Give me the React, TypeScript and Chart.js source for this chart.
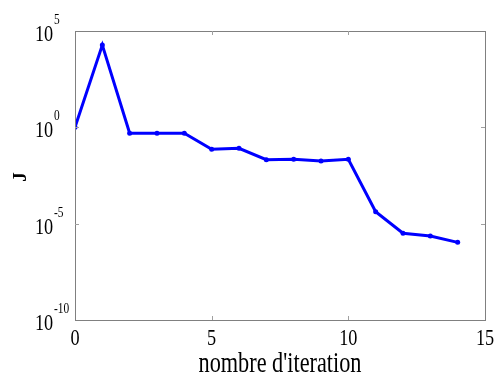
import React, { useEffect, useRef } from "react";
import { Chart, registerables } from "chart.js";

Chart.register(...registerables);

const iterations = [0, 1, 2, 3, 4, 5, 6, 7, 8, 9, 10, 11, 12, 13, 14];
const jValues = [1, 1.86e4, 0.5, 0.5, 0.5, 0.072, 0.081, 0.021, 0.022, 0.018, 0.022, 4.2e-5, 3.2e-6, 2.3e-6, 1.07e-6];
const xTicks = [0, 5, 10, 15];
const yExponents = [5, 0, -5, -10];
const xTitle = "nombre d'iteration";
const yTitle = "J";

const SERIF = "'Liberation Serif', 'Times New Roman', serif";

const framePlugin = {
  id: "framePlugin",
  afterDraw(chart: any) {
    const { ctx, chartArea } = chart;
    const xs = chart.scales.x;
    const ys = chart.scales.y;
    const { left, right, top, bottom } = chartArea;
    ctx.save();
    // frame
    ctx.strokeStyle = "#808080";
    ctx.lineWidth = 1;
    ctx.strokeRect(Math.round(left) + 0.5, Math.round(top) + 0.5, Math.round(right - left), Math.round(bottom - top));
    // ticks
    ctx.strokeStyle = "#a0a0a0";
    ctx.beginPath();
    const tl = 4;
    xTicks.forEach((v) => {
      const x = Math.round(xs.getPixelForValue(v)) + 0.5;
      if (v === xTicks[0] || v === xTicks[xTicks.length - 1]) return;
      ctx.moveTo(x, bottom);
      ctx.lineTo(x, bottom - tl);
      ctx.moveTo(x, top);
      ctx.lineTo(x, top + tl);
    });
    yExponents.forEach((e) => {
      if (e === yExponents[0] || e === yExponents[yExponents.length - 1]) return;
      const y = Math.round(ys.getPixelForValue(Math.pow(10, e))) + 0.5;
      ctx.moveTo(left, y);
      ctx.lineTo(left + tl, y);
      ctx.moveTo(right, y);
      ctx.lineTo(right - tl, y);
    });
    ctx.stroke();

    ctx.fillStyle = "#000";
    const squeeze = 0.76;
    // y tick labels
    yExponents.forEach((e) => {
      const y = ys.getPixelForValue(Math.pow(10, e));
      ctx.save();
      ctx.translate(35, y + 10);
      ctx.scale(squeeze, 1);
      ctx.font = `24px ${SERIF}`;
      ctx.textAlign = "left";
      ctx.textBaseline = "alphabetic";
      ctx.fillText("10", 0, 0);
      const w = ctx.measureText("10").width;
      ctx.font = `15px ${SERIF}`;
      ctx.fillText(String(e), w + 1, -17);
      ctx.restore();
    });
    // x tick labels
    xTicks.forEach((v) => {
      const x = xs.getPixelForValue(v);
      ctx.save();
      ctx.translate(x, 345);
      ctx.scale(squeeze, 1);
      ctx.font = `24px ${SERIF}`;
      ctx.textAlign = "center";
      ctx.textBaseline = "alphabetic";
      ctx.fillText(String(v), 0, 0);
      ctx.restore();
    });
    // x title
    ctx.save();
    ctx.font = `29px ${SERIF}`;
    const tw = ctx.measureText(xTitle).width;
    const cx = (left + right) / 2 - 0;
    ctx.translate(280, 372);
    ctx.scale(163 / tw, 1);
    ctx.textAlign = "center";
    ctx.textBaseline = "alphabetic";
    ctx.fillText(xTitle, 0, 0);
    ctx.restore();
    // y title
    ctx.save();
    ctx.translate(26, 177);
    ctx.rotate(-Math.PI / 2);
    ctx.font = `bold 19px ${SERIF}`;
    ctx.textAlign = "center";
    ctx.textBaseline = "alphabetic";
    ctx.fillText(yTitle, 0, 0);
    ctx.restore();
    ctx.restore();
  },
};

export default function App() {
  const ref = useRef<HTMLCanvasElement>(null);
  useEffect(() => {
    if (!ref.current) return;
    const chart = new Chart(ref.current, {
      type: "line",
      data: {
        datasets: [
          {
            data: iterations.map((x, i) => ({ x, y: jValues[i] })),
            borderColor: "#0000ff",
            backgroundColor: "#0000ff",
            borderWidth: 3,
            pointRadius: 2.5,
            pointBorderWidth: 0,
            pointStyle: "circle",
            tension: 0,
          },
        ],
      },
      options: {
        animation: false,
        responsive: false,
        layout: { padding: { left: 75, right: 10, top: 31, bottom: 57 } },
        plugins: { legend: { display: false }, tooltip: { enabled: false } },
        scales: {
          x: { type: "linear", min: 0, max: 15, display: false },
          y: { type: "logarithmic", min: 1e-10, max: 1e5, display: false },
        },
      },
      plugins: [framePlugin],
    });
    return () => chart.destroy();
  }, []);
  return (
    <div style={{ position: "absolute", left: 0, top: 0, width: 495, height: 377, background: "#fff" }}>
      <canvas ref={ref} width={495} height={377} style={{ width: 495, height: 377 }} />
    </div>
  );
}
